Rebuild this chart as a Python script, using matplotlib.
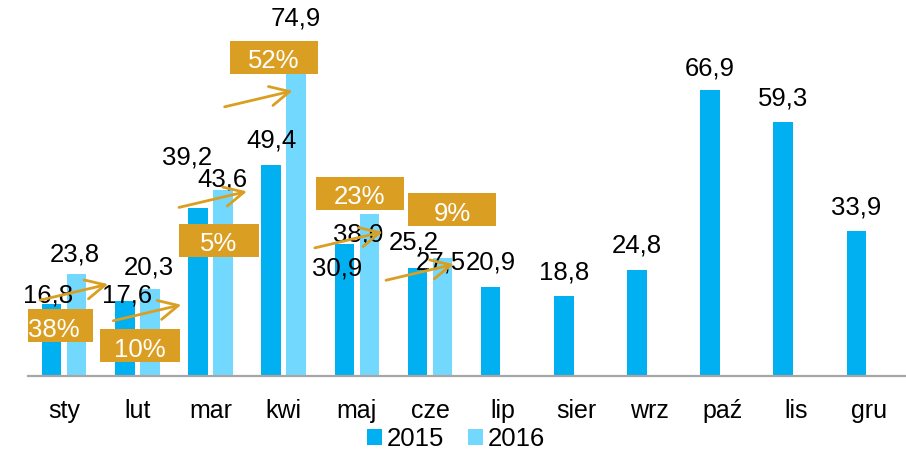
import matplotlib
matplotlib.use("Agg")
import matplotlib.pyplot as plt
import numpy as np
from matplotlib.patches import Rectangle

plt.rcParams["font.family"] = ["Liberation Sans", "DejaVu Sans"]

# ---- data ----
months = ["sty", "lut", "mar", "kwi", "maj", "cze",
          "lip", "sier", "wrz", "paź", "lis", "gru"]
values_2015 = [16.8, 17.6, 39.2, 49.4, 30.9, 25.2, 20.9, 18.8, 24.8, 66.9, 59.3, 33.9]
values_2016 = [23.8, 20.3, 43.6, 74.9, 38.0, 27.5]
growth_labels = ["38%", "10%", "5%", "52%", "23%", "9%"]

# ---- styling / layout ----
C2015 = "#00B0F0"
C2016 = "#72D8FE"
GOLD = "#DA9F22"
FONT = 18.5

# label nudges in pixels (dx, dy above bar top to baseline)
off_2015 = [(-4, 2), (2, -2), (-11, 44), (0, 17), (-7, -32), (-4, 19),
            (0, 17), (0, 16), (0, 17), (0, 15), (0, 17), (0, 17)]
off_2016 = [(-2, 13), (-1, 15), (-1, 3), (0, 30), (-11, -28), (-2, -11)]
# growth boxes: centre offset from (group centre, 2015 bar top), width in px
box_off = [(-10.7, -21.5, 79), (2.6, -45, 80), (8.5, -32, 80),
           (-9.7, 107.5, 88), (3.1, 50.5, 88), (22, 58.5, 88)]
# arrow start offsets from (group centre, 2015 bar top), px
arrow_off = [(-24, 4), (-24, -20), (-31.5, 1), (-59, 58), (-42, -4), (-44, -12)]
arrow_vec = (68, 16)

W, H = 906, 451
fig = plt.figure(figsize=(W / 100, H / 100), dpi=100)
ax_l, ax_r, ax_base, ax_h = 27.6, 905.5, 376, 342
ax = fig.add_axes([ax_l / W, (H - ax_base) / H, (ax_r - ax_l) / W, ax_h / H])
YMAX = 80
ax.set_xlim(-0.5, len(months) - 0.5)
ax.set_ylim(0, YMAX)
PX = len(months) / (ax_r - ax_l)   # data units per pixel, x
PY = YMAX / ax_h                   # data units per pixel, y

x = np.arange(len(months))
x16 = np.arange(len(values_2016))
shift, bw = 0.171, 0.267
ax.bar(x - shift, values_2015, width=bw, color=C2015, label="2015", zorder=2)
ax.bar(x16 + shift, values_2016, width=bw, color=C2016, label="2016", zorder=2)


def fmt(v):
    return f"{v:.1f}".replace(".", ",")


for i, v in enumerate(values_2015):
    dx, dy = off_2015[i]
    ax.text(i - shift + dx * PX, v + dy * PY, fmt(v), ha="center", va="baseline",
            fontsize=FONT, color="black", zorder=3)
for i, v in enumerate(values_2016):
    dx, dy = off_2016[i]
    ax.text(i + shift + dx * PX, v + dy * PY, fmt(v), ha="center", va="baseline",
            fontsize=FONT, color="black", zorder=3)

for i, lab in enumerate(growth_labels):
    top = values_2015[i]
    dx, dy, bwid = box_off[i]
    cx, cy = i + dx * PX, top + dy * PY
    ax.add_patch(Rectangle((cx - bwid / 2 * PX, cy - 16.5 * PY), bwid * PX, 33 * PY,
                           facecolor=GOLD, edgecolor="none", zorder=4))
    ax.text(cx, cy - 11 * PY, lab, ha="center", va="baseline", fontsize=FONT,
            color="white", zorder=5)
    sx, sy = arrow_off[i]
    x0, y0 = i + sx * PX, top + sy * PY
    x1, y1 = x0 + arrow_vec[0] * PX, y0 + arrow_vec[1] * PY
    ax.annotate("", xy=(x1, y1), xytext=(x0, y0),
                arrowprops=dict(arrowstyle="->,head_length=0.7,head_width=0.35",
                                color=GOLD, lw=2, shrinkA=0, shrinkB=0,
                                mutation_scale=20),
                zorder=6)

ax.set_xticks(x)
ax.set_xticklabels(months, fontsize=18, va="baseline")
ax.tick_params(axis="x", length=0, pad=30)
ax.set_yticks([])
for s in ["top", "right", "left"]:
    ax.spines[s].set_visible(False)
ax.spines["bottom"].set_color("#A6A6A6")
ax.spines["bottom"].set_linewidth(1.6)

fig.legend(loc="center", bbox_to_anchor=(456 / W, 1 - 439 / H), ncol=2,
           frameon=False, fontsize=18.5, handlelength=0.6, handleheight=0.6,
           handletextpad=0.2, columnspacing=0.9, borderaxespad=0, borderpad=0)

fig.savefig("out.png", dpi=100)
